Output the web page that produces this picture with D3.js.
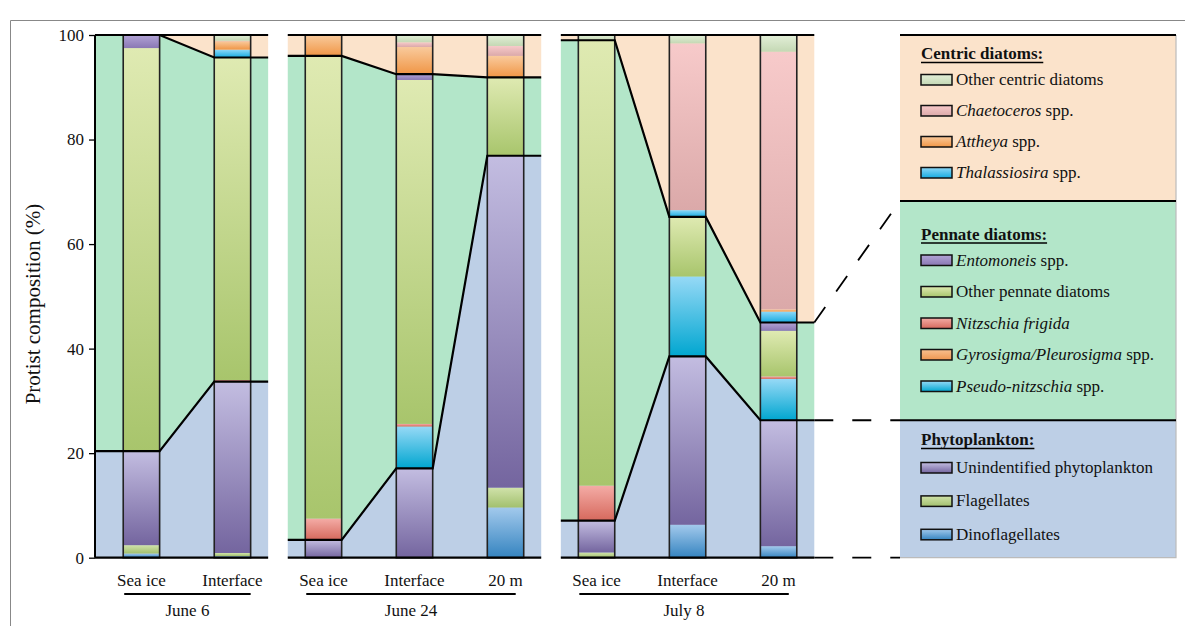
<!DOCTYPE html>
<html>
<head>
<meta charset="utf-8">
<script src="https://cdn.jsdelivr.net/npm/d3@7"></script>
<style>
  body{margin:0;background:#fff}
  svg{font-family:"Liberation Serif","Times New Roman",serif}
</style>
</head>
<body>
<div id="chart"></div>
<script>
// one entry per bar
var sampleDates = ['June 6','June 6','June 24','June 24','June 24','July 8','July 8','July 8']
var sampleSites = ['Sea ice','Interface','Sea ice','Interface','20 m','Sea ice','Interface','20 m']
var yTicks = [0,20,40,60,80,100]

// phytoplankton
var dinoflagellates = [0.8,0.3,0,0,9.6,0,6.3,2.2]
var flagellates     = [1.6,0.6,0,0,3.8,1.0,0,0]
var unidentified    = [18.0,32.8,3.4,17.1,63.5,6.1,32.2,24.1]
// pennate diatoms
var pseudoNitzschia = [0,0,0,8.0,0,0,15.3,7.9]
var gyrosigma       = [0,0,0,0,0,0,0,0]
var nitzschia       = [0,0.3,4.1,0.5,0,6.7,0,0.5]
var otherPennate    = [77.1,61.7,88.5,65.8,15.0,85.2,11.4,8.7]
var entomoneis      = [2.5,0,0,1.1,0,0,0,1.6]
// centric diatoms
var thalassiosira   = [0,1.5,0,0,0,0,1.3,2.1]
var attheya         = [0,1.6,4.0,5.2,4.1,0,0,0.4]
var chaetoceros     = [0,0.1,0,0.9,1.9,0,31.9,49.3]
var otherCentric    = [0,1.1,0,1.4,2.1,1.0,1.6,3.2]

var keys = ['dino','flag','unid','pseudo','gyro','nitz','otherPen','ento','thal','atth','chaet','otherCen']
var series = {dino:dinoflagellates,flag:flagellates,unid:unidentified,pseudo:pseudoNitzschia,
  gyro:gyrosigma,nitz:nitzschia,otherPen:otherPennate,ento:entomoneis,
  thal:thalassiosira,atth:attheya,chaet:chaetoceros,otherCen:otherCentric}

var grad = {
  dino:['#a2c9ec','#3584c0'], flag:['#d0e2aa','#a2c06e'], unid:['#c3bde1','#74659f'],
  pseudo:['#96d9f6','#00a6d0'], gyro:['#f8c090','#ee9650'], nitz:['#f4aca6','#d6695d'],
  otherPen:['#dfeab2','#a8c56c'], ento:['#b2a4d6','#8a78b4'],
  thal:['#8dd8f8','#16abe0'], atth:['#f9ca9c','#f09646'], chaet:['#f7caca','#dba9a9'], otherCen:['#e3efd8','#c4d8b4']
}
var bg = {centric:'#fbe3cb', pennate:'#b3e6c9', phyto:'#bdcfe6'}

var legendGroups = [
  {title:'Centric diatoms:', fill:bg.centric, items:[
    ['otherCen','','Other centric diatoms'],['chaet','Chaetoceros',' spp.'],
    ['atth','Attheya',' spp.'],['thal','Thalassiosira',' spp.']]},
  {title:'Pennate diatoms:', fill:bg.pennate, items:[
    ['ento','Entomoneis',' spp.'],['otherPen','','Other pennate diatoms'],['nitz','Nitzschia frigida',''],
    ['gyro','Gyrosigma/Pleurosigma',' spp.'],['pseudo','Pseudo-nitzschia',' spp.']]},
  {title:'Phytoplankton:', fill:bg.phyto, items:[
    ['unid','','Unindentified phytoplankton'],['flag','','Flagellates'],['dino','','Dinoflagellates']]}
]

var width = 1185, height = 626
var svg = d3.select('#chart').append('svg').attr('width',width).attr('height',height)

// frame
svg.append('path').attr('d','M10.5,626V20.5H1185').attr('fill','none').attr('stroke','#888').attr('stroke-width',1)

var defs = svg.append('defs')
keys.forEach(k=>{
  var g = defs.append('linearGradient').attr('id','g-'+k).attr('x1',0).attr('y1',0).attr('x2',0).attr('y2',1)
  g.append('stop').attr('offset','0%').attr('stop-color',grad[k][0])
  g.append('stop').attr('offset','100%').attr('stop-color',grad[k][1])
})

var rows = sampleSites.map((s,i)=>{
  var r = {i:i}
  keys.forEach(k=>{ r[k] = series[k][i] })
  return r
})
var stacked = d3.stack().keys(keys)(rows)
var phytoTop = rows.map((r,i)=>stacked[2][i][1])
var pennTop  = rows.map((r,i)=>stacked[7][i][1])

var x = d3.scaleBand().domain(rows.map(r=>r.i)).range([95,825]).paddingInner(0.6).paddingOuter(0.31)
var bw = x.bandwidth()
var y = d3.scaleLinear().domain([0,100]).range([557.7,35])
var gapHalf = 17.5

var dates = Array.from(new Set(sampleDates))
var panels = dates.map((d,p)=>{
  var idx = rows.filter(r=>sampleDates[r.i]===d).map(r=>r.i)
  var start = p===0 ? 95 : x(idx[0]) - gapHalf
  var end = x(idx[idx.length-1]) + bw + gapHalf
  return {date:d, idx:idx, start:start, end:end}
})

var boundary = (pan, vals) => {
  var pts = [[pan.start, vals[pan.idx[0]]]]
  pan.idx.forEach(i=>{ pts.push([x(i), vals[i]], [x(i)+bw, vals[i]]) })
  pts.push([pan.end, vals[pan.idx[pan.idx.length-1]]])
  return pts
}
var zeros = rows.map(()=>0), hundreds = rows.map(()=>100)

var area = d3.area().x(d=>d[0]).y0(d=>y(d[1])).y1(d=>y(d[2]))
var line = d3.line().x(d=>d[0]).y(d=>y(d[1]))
var zip = (a,b)=>a.map((p,j)=>[p[0],p[1],b[j][1]])

var gBg = svg.append('g')
panels.forEach(pan=>{
  var b0 = boundary(pan,zeros), b1 = boundary(pan,phytoTop), b2 = boundary(pan,pennTop), b3 = boundary(pan,hundreds)
  gBg.append('path').attr('d',area(zip(b0,b1))).attr('fill',bg.phyto)
  gBg.append('path').attr('d',area(zip(b1,b2))).attr('fill',bg.pennate)
  gBg.append('path').attr('d',area(zip(b2,b3))).attr('fill',bg.centric)
})

// stacked bars
var gBars = svg.append('g')
stacked.forEach(s=>{
  gBars.selectAll(null).data(s.filter(d=>d[1]-d[0]>0)).enter().append('rect')
    .attr('x',d=>x(d.data.i)).attr('width',bw)
    .attr('y',d=>y(d[1])).attr('height',d=>y(d[0])-y(d[1]))
    .attr('fill','url(#g-'+s.key+')')
})
gBars.selectAll('.outline').data(rows).enter().append('rect')
  .attr('x',d=>x(d.i)).attr('width',bw).attr('y',y(100)).attr('height',y(0)-y(100))
  .attr('fill','none').attr('stroke','#222').attr('stroke-width',1.6)

// boundary lines
var gLines = svg.append('g').attr('fill','none').attr('stroke','#000').attr('stroke-width',2.2)
panels.forEach(pan=>{
  gLines.append('path').attr('d',line(boundary(pan,phytoTop)))
  gLines.append('path').attr('d',line(boundary(pan,pennTop)))
  gLines.append('path').attr('d',line([[pan.start,100],[pan.end,100]]))
  gLines.append('path').attr('d',line([[pan.start,0],[pan.end,0]]))
})

// y axis
var axis = svg.append('g').attr('transform','translate(95,0)')
  .call(d3.axisLeft(y).tickValues(yTicks).tickSize(6).tickPadding(5))
axis.select('.domain').attr('stroke','#000').attr('stroke-width',2).attr('d','M0,'+y(100)+'V'+y(0))
axis.selectAll('.tick line').attr('stroke','#000').attr('stroke-width',1.3)
axis.selectAll('.tick text').attr('font-family','"Liberation Serif",serif').attr('font-size',17).attr('fill','#111')

svg.append('text').attr('transform','translate(33,304) rotate(-90)')
  .attr('text-anchor','middle').attr('dominant-baseline','central')
  .attr('font-size',21).attr('fill','#111').text('Protist composition (%)')

// category labels
svg.append('g').selectAll('text').data(rows).enter().append('text')
  .attr('x',d=>x(d.i)+bw/2).attr('y',586).attr('text-anchor','middle')
  .attr('font-size',17).attr('fill','#111').text(d=>sampleSites[d.i])

panels.forEach(pan=>{
  var x0 = x(pan.idx[0]) + 1, x1 = x(pan.idx[pan.idx.length-1]) + bw - (pan.idx.length>2 ? 8 : 0)
  svg.append('line').attr('x1',x0).attr('x2',x1).attr('y1',594).attr('y2',594)
    .attr('stroke','#000').attr('stroke-width',2)
  svg.append('text').attr('x',(x0+x1)/2).attr('y',616).attr('text-anchor','middle')
    .attr('font-size',17).attr('fill','#111').text(pan.date)
})

// legend
var legendX = 900, legendW = 276
var last = panels[panels.length-1], li = last.idx[last.idx.length-1]
var secTops = [y(100), 201, y(phytoTop[li])], secBottom = y(0)
var gLeg = svg.append('g')
legendGroups.forEach((grp,gi)=>{
  var top = secTops[gi], bot = gi<2 ? secTops[gi+1] : secBottom
  gLeg.append('rect').attr('x',legendX).attr('y',top).attr('width',legendW).attr('height',bot-top).attr('fill',grp.fill)
})
gLeg.append('path').attr('d','M'+(legendX+legendW)+','+secTops[0]+'V'+secBottom+'H'+legendX)
  .attr('fill','none').attr('stroke','#bbb').attr('stroke-width',1.2)
secTops.forEach(t=>{
  gLeg.append('line').attr('x1',legendX).attr('x2',legendX+legendW).attr('y1',t).attr('y2',t)
    .attr('stroke','#000').attr('stroke-width',2.2)
})

var titleBase = [59, 239.5, 445], itemStep = [31, 31.5, 33.4]
legendGroups.forEach((grp,gi)=>{
  var tb = titleBase[gi]
  var t = gLeg.append('text').attr('x',921).attr('y',tb).attr('font-size',17).attr('font-weight','bold')
    .attr('fill','#111').text(grp.title)
  var tw = t.node().getComputedTextLength()
  gLeg.append('line').attr('x1',921).attr('x2',921+tw).attr('y1',tb+3.5).attr('y2',tb+3.5)
    .attr('stroke','#000').attr('stroke-width',1.6)
  grp.items.forEach((it,j)=>{
    var base = tb + 26 + j*itemStep[gi] - (gi===2 ? -2 : 0)
    gLeg.append('rect').attr('x',921).attr('y',base-10.5).attr('width',31).attr('height',10.5)
      .attr('fill','url(#g-'+it[0]+')').attr('stroke','#111').attr('stroke-width',1.5)
    var tx = gLeg.append('text').attr('x',956).attr('y',base).attr('font-size',17).attr('fill','#111')
    if(it[1]) tx.append('tspan').attr('font-style','italic').text(it[1])
    if(it[2]) tx.append('tspan').text(it[2])
  })
})

// dashed connectors from the last bar to the legend
var dash = svg.append('g').attr('fill','none').attr('stroke','#000').attr('stroke-width',1.8).attr('stroke-dasharray','19,19')
dash.append('line').attr('x1',last.end).attr('y1',y(pennTop[li])).attr('x2',legendX).attr('y2',secTops[1])
dash.append('line').attr('x1',last.end).attr('y1',y(phytoTop[li])).attr('x2',legendX).attr('y2',secTops[2])
dash.append('line').attr('x1',last.end).attr('y1',y(0)).attr('x2',legendX).attr('y2',y(0))
</script>
</body>
</html>
